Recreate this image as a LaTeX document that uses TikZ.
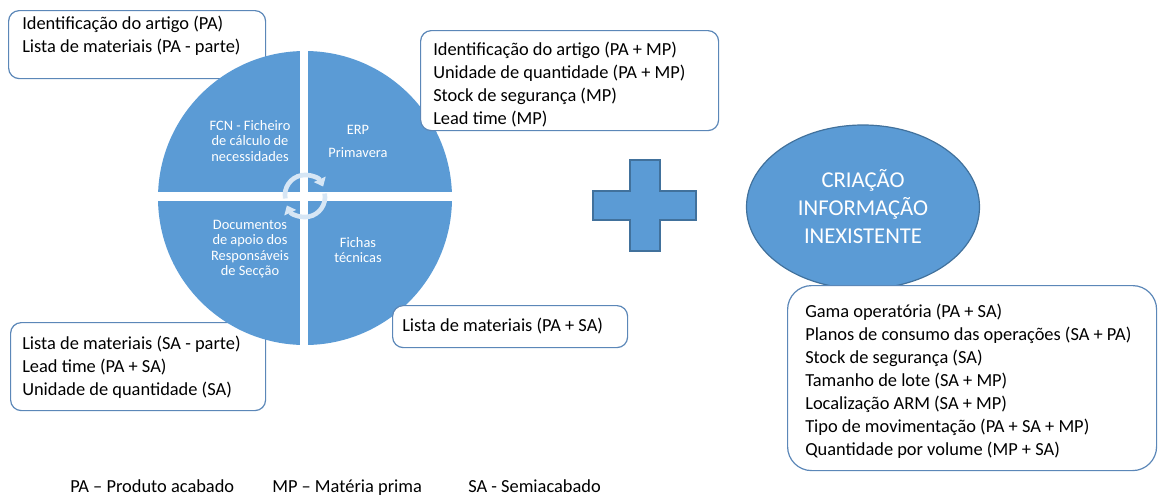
\documentclass[tikz,border=0pt]{standalone}
\usepackage{fontspec}
\setmainfont{Carlito}
\usetikzlibrary{arrows.meta,shapes.geometric,positioning}
\definecolor{smartBlue}{HTML}{5B9BD5}
\definecolor{edgeBlue}{HTML}{41719C}
\definecolor{boxEdge}{HTML}{5B87B8}
\definecolor{arrowLight}{HTML}{D6E6F5}
\newcommand{\pxl}{0.75pt}
\tikzstyle{infoBox} = [draw=boxEdge, fill=white, line width=0.9pt, rounded corners=8pt, anchor=north west, inner sep=0pt]
\tikzstyle{infoText} = [anchor=north west, align=left, inner sep=0pt, font=\fontsize{13.8}{17.25}\selectfont]
\tikzstyle{quadText} = [text=white, align=center, inner sep=0pt, font=\fontsize{10.8}{11.7}\selectfont]
\tikzstyle{cycleArrow} = [line width=3.5pt, draw=arrowLight, -{Triangle[length=6pt,width=9.5pt]}]
\tikzstyle{plusShape} = [fill=smartBlue, draw=edgeBlue, line width=0.9pt]
\tikzstyle{legend} = [anchor=base west, inner sep=0pt, font=\fontsize{13.8}{15}\selectfont]

\begin{document}
\begin{tikzpicture}[x=0.75pt, y=-0.75pt]
    \useasboundingbox (0,0) rectangle (1158,497);

    % boxes under the circle
    \node (boxPA) [infoBox, minimum width=257*\pxl, minimum height=68*\pxl] at (8,10) {};
    \node (txtPA) [infoText] at (22,16) {Identificação do artigo (PA)\\Lista de materiais (PA - parte)};
    \node (boxSA) [infoBox, minimum width=255*\pxl, minimum height=88*\pxl] at (10,322) {};
    \node (txtSA) [infoText] at (22,335.5) {Lista de materiais (SA - parte)\\Lead time (PA + SA)\\Unidade de quantidade (SA)};

    % circle in four parts
    \begin{scope}
        \clip (305,198) circle [radius=147];
        \fill [smartBlue] (150,40) rectangle (300,192);
        \fill [smartBlue] (308,40) rectangle (460,192);
        \fill [smartBlue] (150,201) rectangle (300,355);
        \fill [smartBlue] (308,201) rectangle (460,355);
    \end{scope}
    \node (fcn) [quadText] at (250,141) {FCN - Ficheiro\\de cálculo de\\necessidades};
    \node (erp) [quadText] at (358,141.5) {ERP\\[5.5pt]Primavera};
    \node (docs) [quadText] at (250,249) {Documentos\\de apoio dos\\Responsáveis\\de Secção};
    \node (fichas) [quadText] at (358,250) {Fichas\\técnicas};
    \draw [cycleArrow] (305,195) ++(170:20) arc [start angle=170, end angle=335, radius=20];
    \draw [cycleArrow] (305,197) ++(-10:20) arc [start angle=-10, end angle=155, radius=20];

    % boxes over the circle
    \node (boxERP) [infoBox, minimum width=298*\pxl, minimum height=100*\pxl] at (420,30) {};
    \node (txtERP) [infoText] at (433,41.5) {Identificação do artigo (PA + MP)\\Unidade de quantidade (PA + MP)\\Stock de segurança (MP)\\Lead time (MP)};
    \node (boxFT) [infoBox, minimum width=235*\pxl, minimum height=42*\pxl] at (392,305) {};
    \node (txtFT) [infoText] at (402,318) {Lista de materiais (PA + SA)};

    % plus sign
    \draw [plusShape] (630,160) -- (660,160) -- (660,191) -- (696,191) -- (696,220) -- (660,220)
        -- (660,251) -- (630,251) -- (630,220) -- (593,220) -- (593,191) -- (630,191) -- cycle;

    % new information
    \node (crea) [ellipse, fill=smartBlue, draw=edgeBlue, line width=0.9pt, inner sep=0pt,
        minimum width=233*\pxl, minimum height=164*\pxl, text=white, align=center,
        font=\fontsize{17}{21}\selectfont] at (863,207) {CRIAÇÃO\\INFORMAÇÃO\\INEXISTENTE};
    \node (boxNew) [infoBox, rounded corners=18pt, minimum width=369*\pxl, minimum height=185*\pxl] at (787,285) {};
    \node (txtNew) [infoText] at (805,303.5) {Gama operatória (PA + SA)\\Planos de consumo das operações (SA + PA)\\Stock de segurança (SA)\\Tamanho de lote (SA + MP)\\Localização ARM (SA + MP)\\Tipo de movimentação (PA + SA + MP)\\Quantidade por volume (MP + SA)};

    % legend
    \node (legPA) [legend] at (70,492) {PA – Produto acabado};
    \node (legMP) [legend] at (272,492) {MP – Matéria prima};
    \node (legSA) [legend] at (468,492) {SA - Semiacabado};
\end{tikzpicture}
\end{document}
